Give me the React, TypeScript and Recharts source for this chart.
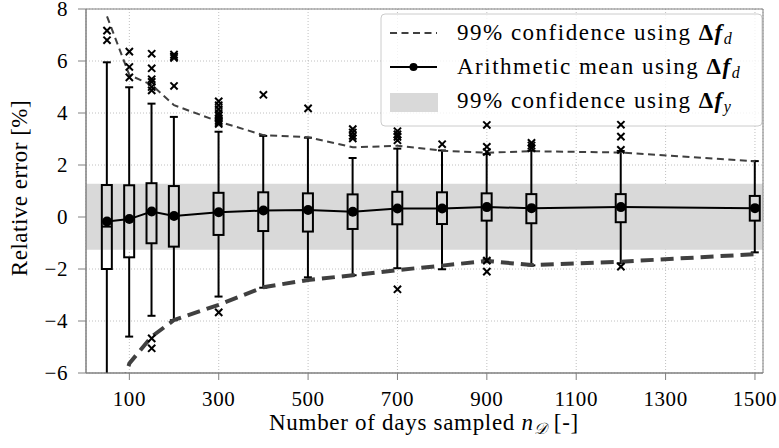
import React from 'react';
import {
  ComposedChart,
  XAxis,
  YAxis,
  CartesianGrid,
  Line,
  Bar,
  Scatter,
  ReferenceArea,
  Customized,
} from 'recharts';

// ---- data ----
const sampleSizes = [50, 100, 150, 200, 300, 400, 500, 600, 700, 800, 900, 1000, 1200, 1500];
const whiskerHigh = [5.95, 4.99, 4.36, 3.85, 3.28, 3.12, 3.05, 2.27, 2.63, 2.56, 2.42, 2.55, 2.54, 2.15];
const q3Values = [1.23, 1.22, 1.3, 1.19, 0.93, 0.95, 0.91, 0.87, 0.97, 0.95, 0.91, 0.88, 0.88, 0.81];
const medianValues = [-0.37, -0.08, 0.22, 0.03, 0.18, 0.26, 0.27, 0.2, 0.33, 0.32, 0.38, 0.34, 0.38, 0.34];
const meanValues = [-0.17, -0.08, 0.21, 0.04, 0.18, 0.25, 0.27, 0.2, 0.33, 0.33, 0.38, 0.34, 0.38, 0.34];
const q1Values = [-2.0, -1.55, -1.01, -1.14, -0.69, -0.54, -0.56, -0.46, -0.28, -0.27, -0.14, -0.24, -0.2, -0.14];
const whiskerLow = [-7.9, -4.6, -3.8, -3.97, -3.06, -2.72, -2.32, -2.24, -1.97, -2.01, -1.63, -1.86, -1.78, -1.36];
const upperConfidence = [7.72, 5.46, 5.08, 4.3, 3.67, 3.15, 3.07, 2.68, 2.74, 2.55, 2.47, 2.53, 2.48, 2.14];
const lowerConfidence = [-8.7, -5.63, -4.6, -3.96, -3.38, -2.7, -2.42, -2.24, -2.04, -1.87, -1.69, -1.85, -1.72, -1.43];
const outlierValues: number[][] = [
  [7.17, 6.8],
  [6.36, 5.77, 5.37],
  [6.28, 5.72, 5.3, 5.2, 5.0, 4.87, -4.67, -5.05],
  [6.25, 6.18, 6.12, 5.04],
  [4.45, 4.3, 4.15, 4.0, 3.9, 3.8, 3.72, 3.65, 3.58, -3.67],
  [4.7],
  [4.18],
  [3.38, 3.25, 3.12, 3.02],
  [3.3, 3.18, 3.08, 2.95, -2.78],
  [2.8],
  [3.54, 2.7, 2.5, -1.68, -2.1],
  [2.85, 2.75, 2.65],
  [3.55, 3.09, 2.58, -1.91],
  [],
];
const bandLow = -1.26;
const bandHigh = 1.28;
const xTicks = [100, 300, 500, 700, 900, 1100, 1300, 1500];
const yTicks = [-6, -4, -2, 0, 2, 4, 6, 8];
const xDomain: [number, number] = [3, 1518];
const yDomain: [number, number] = [-6, 8];

const rows = sampleSizes.map((x, i) => ({
  x,
  box: [q1Values[i], q3Values[i]],
  upperWhisker: [q3Values[i], whiskerHigh[i]],
  lowerWhisker: [whiskerLow[i], q1Values[i]],
  median: medianValues[i],
  mean: meanValues[i],
  upper: upperConfidence[i],
  lower: lowerConfidence[i],
}));

const outlierPoints = sampleSizes.flatMap((x, i) => outlierValues[i].map((y) => ({ x, y })));

const FONT = "Liberation Serif";
const DARK = '#404040';

const BoxShape = (props: any) => {
  const { x, y, width, height } = props;
  if (x == null || y == null) return null;
  const top = Math.min(y, y + height);
  const h = Math.abs(height);
  return <rect x={x} y={top} width={width} height={h} fill="none" stroke="#000" strokeWidth={2} />;
};

const UpperWhiskerShape = (props: any) => {
  const { x, y, width, height } = props;
  if (x == null || y == null) return null;
  const cx = x + width / 2;
  const top = Math.min(y, y + height);
  const bottom = Math.max(y, y + height);
  return (
    <g stroke="#000" strokeWidth={2}>
      <line x1={cx} x2={cx} y1={top} y2={bottom} />
      <line x1={cx - 4} x2={cx + 4} y1={top} y2={top} />
    </g>
  );
};

const LowerWhiskerShape = (props: any) => {
  const { x, y, width, height } = props;
  if (x == null || y == null) return null;
  const cx = x + width / 2;
  const top = Math.min(y, y + height);
  const bottom = Math.max(y, y + height);
  return (
    <g stroke="#000" strokeWidth={2}>
      <line x1={cx} x2={cx} y1={top} y2={bottom} />
      <line x1={cx - 4} x2={cx + 4} y1={bottom} y2={bottom} />
    </g>
  );
};

const MedianShape = (props: any) => {
  const { cx, cy } = props;
  if (cx == null || cy == null) return null;
  return <line x1={cx - 5} x2={cx + 5} y1={cy} y2={cy} stroke="#000" strokeWidth={2} />;
};

const CrossShape = (props: any) => {
  const { cx, cy } = props;
  if (cx == null || cy == null) return null;
  const s = 3.6;
  return (
    <g stroke="#000" strokeWidth={2}>
      <line x1={cx - s} x2={cx + s} y1={cy - s} y2={cy + s} />
      <line x1={cx - s} x2={cx + s} y1={cy + s} y2={cy - s} />
    </g>
  );
};

const fmtY = (v: number) => (v < 0 ? `\u2212${Math.abs(v)}` : `${v}`);

const LegendBox = () => (
  <g fontFamily={FONT} fontSize={23} fill="#000" letterSpacing={1.5}>
    <rect x={381} y={14} width={381} height={112} rx={4} fill="#fff" fillOpacity={0.8} stroke="#cccccc" strokeWidth={1} />
    <line x1={390} x2={437} y1={33} y2={33} stroke={DARK} strokeWidth={2} strokeDasharray="7 4.5" />
    <text x={457} y={40}>
      99% confidence using <tspan fontWeight="bold">Δ</tspan>
      <tspan fontWeight="bold" fontStyle="italic">f</tspan>
      <tspan fontStyle="italic" fontSize={16} dy={4}>d</tspan>
    </text>
    <line x1={390} x2={437} y1={67} y2={67} stroke="#000" strokeWidth={2} />
    <circle cx={413.5} cy={67} r={4} fill="#000" />
    <text x={457} y={74}>
      Arithmetic mean using <tspan fontWeight="bold">Δ</tspan>
      <tspan fontWeight="bold" fontStyle="italic">f</tspan>
      <tspan fontStyle="italic" fontSize={16} dy={4}>d</tspan>
    </text>
    <rect x={390} y={93} width={48} height={19} fill="#d9d9d9" />
    <text x={457} y={108}>
      99% confidence using <tspan fontWeight="bold">Δ</tspan>
      <tspan fontWeight="bold" fontStyle="italic">f</tspan>
      <tspan fontStyle="italic" fontSize={16} dy={4}>y</tspan>
    </text>
  </g>
);

const AxisTitles = () => (
  <g fontFamily={FONT} fontSize={23} fill="#000">
    <text x={424} y={430} textAnchor="middle" letterSpacing={0.7}>
      Number of days sampled <tspan fontStyle="italic">n</tspan>
      <tspan fontStyle="italic" fontSize={16} dy={4}>𝒟</tspan>
      <tspan dy={-4}> [-]</tspan>
    </text>
    <text transform="translate(27,188) rotate(-90)" textAnchor="middle" letterSpacing={0.5}>
      Relative error [%]
    </text>
  </g>
);

export default function App() {
  return (
    <div style={{ position: 'absolute', left: 0, top: 0, width: 779, height: 448, background: '#fff' }}>
      <ComposedChart
        width={779}
        height={448}
        data={rows}
        margin={{ top: 9, right: 16, bottom: 0, left: 0 }}
      >
        <ReferenceArea
          x1={xDomain[0]}
          x2={xDomain[1]}
          y1={bandLow}
          y2={bandHigh}
          fill="#d9d9d9"
          fillOpacity={1}
          stroke="none"
          ifOverflow="hidden"
        />
        <CartesianGrid stroke="#b0b0b0" strokeDasharray="1 2" strokeWidth={0.8} />
        <XAxis
          dataKey="x"
          type="number"
          domain={xDomain}
          allowDataOverflow
          ticks={xTicks}
          height={75}
          tickSize={7}
          tickMargin={11}
          stroke="#808080"
          tick={{ fill: '#000', fontFamily: FONT, fontSize: 21, letterSpacing: 0.6 }}
          interval={0}
        />
        <XAxis xAxisId="wu" dataKey="x" type="number" domain={xDomain} allowDataOverflow hide />
        <XAxis xAxisId="wl" dataKey="x" type="number" domain={xDomain} allowDataOverflow hide />
        <YAxis
          type="number"
          domain={yDomain}
          allowDataOverflow
          ticks={yTicks}
          width={86}
          tickSize={8}
          tickMargin={10}
          stroke="#808080"
          tickFormatter={fmtY}
          tick={{ fill: '#000', fontFamily: FONT, fontSize: 21, letterSpacing: 0.6 }}
          interval={0}
        />
        <Bar dataKey="upperWhisker" xAxisId="wu" barSize={10} shape={UpperWhiskerShape} isAnimationActive={false} />
        <Bar dataKey="lowerWhisker" xAxisId="wl" barSize={10} shape={LowerWhiskerShape} isAnimationActive={false} />
        <Bar dataKey="box" barSize={10} shape={BoxShape} isAnimationActive={false} />
        <Scatter dataKey="median" shape={MedianShape} isAnimationActive={false} />
        <Scatter data={outlierPoints} dataKey="y" shape={CrossShape} isAnimationActive={false} />
        <Line
          dataKey="upper"
          type="linear"
          stroke={DARK}
          strokeWidth={2}
          strokeDasharray="7 4.5"
          dot={false}
          isAnimationActive={false}
        />
        <Line
          dataKey="lower"
          type="linear"
          stroke={DARK}
          strokeWidth={4}
          strokeDasharray="13 7"
          dot={false}
          isAnimationActive={false}
        />
        <Line
          dataKey="mean"
          type="linear"
          stroke="#000"
          strokeWidth={2}
          dot={{ r: 5, fill: '#000', stroke: '#000', strokeWidth: 0 }}
          isAnimationActive={false}
        />
        <ReferenceArea
          x1={xDomain[0]}
          x2={xDomain[1]}
          y1={yDomain[0]}
          y2={yDomain[1]}
          fill="none"
          stroke="#808080"
          strokeWidth={1}
        />
        <Customized component={AxisTitles} />
        <Customized component={LegendBox} />
      </ComposedChart>
    </div>
  );
}
